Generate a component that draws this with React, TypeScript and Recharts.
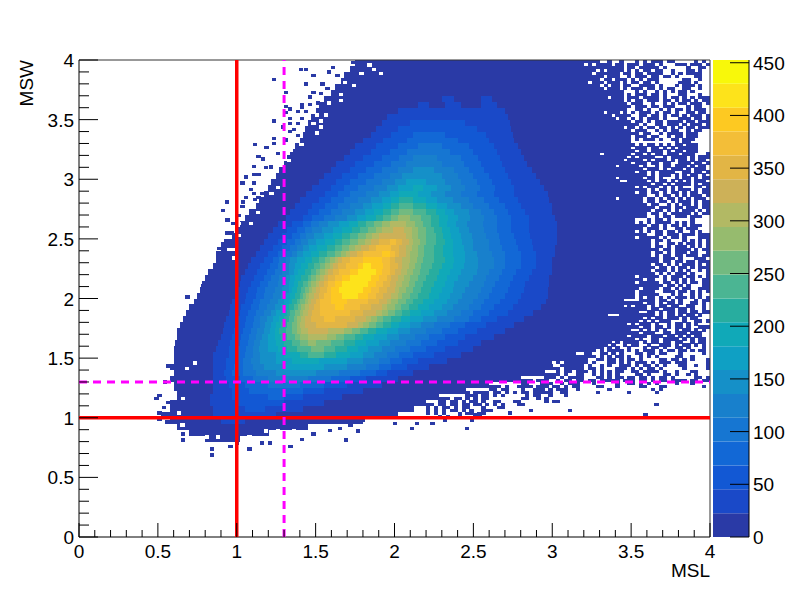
import React from "react";
import { ScatterChart, Scatter, XAxis, YAxis, BarChart, Bar } from "recharts";

// ROOT-style 2D histogram of MSW vs MSL
const W = 789;
const H = 597;
const LEFT = 79;
const RIGHT = 79;
const TOP = 60;
const BOTTOM = 60;
const PX_X = (W - LEFT - RIGHT) / 4;
const PX_Y = (H - TOP - BOTTOM) / 4;
const FINE = 0.025;
const ROW = 0.05;
const CONTOUR = 22.63;

const palette = ["#2a3aa6", "#1a49c8", "#1258d4", "#1268d6", "#1676d2", "#1880cc", "#1590c8", "#0fa0c4", "#10a9b8", "#28ad9f", "#4bb593", "#72ba80", "#96bb6e", "#b2b964", "#cdb158", "#e2b545", "#f3be38", "#fdc922", "#fde31b", "#f8f80a"];

const axisTicks = [0, 0.1, 0.2, 0.3, 0.4, 0.5, 0.6, 0.7, 0.8, 0.9, 1, 1.1, 1.2, 1.3, 1.4, 1.5, 1.6, 1.7, 1.8, 1.9, 2, 2.1, 2.2, 2.3, 2.4, 2.5, 2.6, 2.7, 2.8, 2.9, 3, 3.1, 3.2, 3.3, 3.4, 3.5, 3.6, 3.7, 3.8, 3.9, 4];
const zTicks = [0, 50, 100, 150, 200, 250, 300, 350, 400, 450];

// cut lines and frame, from one end to the other
const solidCutV = [{ x: 1, y: 0 }, { x: 1, y: 4 }];
const solidCutH = [{ x: 0, y: 1 }, { x: 4, y: 1 }];
const dashedCutV = [{ x: 1.3, y: 0 }, { x: 1.3, y: 4 }];
const dashedCutH = [{ x: 0, y: 1.3 }, { x: 4, y: 1.3 }];
const frameTop = [{ x: 0, y: 4 }, { x: 4, y: 4 }];
const frameRight = [{ x: 4, y: 0 }, { x: 4, y: 4 }];

// rows from MSW=4 downwards, 0.05 tall: x where a contour level starts, level, ..., last x
const bodyRows = [
  [1.75, 0, 3.2], [1.72, 0, 3.2], [1.68, 0, 3.2], [1.66, 0, 3.2], [1.62, 0, 3.2], [1.6, 0, 3.2],
  [1.55, 0, 2.3, 1, 2.38, 0, 2.55, 1, 2.62, 0, 3.2],
  [1.52, 0, 2.15, 1, 2.22, 0, 2.32, 1, 2.42, 0, 2.55, 1, 2.65, 0, 3.2],
  [1.5, 0, 2.02, 1, 2.7, 0, 3.2],
  [1.47, 0, 1.95, 1, 2.72, 0, 3.2],
  [1.45, 0, 1.92, 1, 2.1, 2, 2.45, 1, 2.73, 0, 3.2],
  [1.43, 0, 1.88, 1, 2.02, 2, 2.52, 1, 2.74, 0, 3.2],
  [1.42, 0, 1.85, 1, 1.98, 2, 2.12, 3, 2.32, 2, 2.58, 1, 2.75, 0, 3.2],
  [1.4, 0, 1.8, 1, 1.93, 2, 2.08, 3, 2.4, 2, 2.6, 1, 2.76, 0, 3.2],
  [1.37, 0, 1.75, 1, 1.88, 2, 2.02, 3, 2.15, 4, 2.3, 3, 2.47, 2, 2.63, 1, 2.78, 0, 3.2],
  [1.34, 0, 1.72, 1, 1.85, 2, 1.97, 3, 2.08, 4, 2.35, 3, 2.5, 2, 2.65, 1, 2.8, 0, 3.2],
  [1.32, 0, 1.68, 1, 1.8, 2, 1.92, 3, 2.03, 4, 2.12, 5, 2.27, 4, 2.42, 3, 2.53, 2, 2.67, 1, 2.82, 0, 3.2],
  [1.3, 0, 1.63, 1, 1.75, 2, 1.87, 3, 1.98, 4, 2.07, 5, 2.3, 4, 2.44, 3, 2.55, 2, 2.68, 1, 2.84, 0, 3.2],
  [1.27, 0, 1.6, 1, 1.72, 2, 1.82, 3, 1.92, 4, 2.02, 5, 2.12, 6, 2.25, 5, 2.38, 4, 2.47, 3, 2.57, 2, 2.7, 1, 2.87, 0, 3.2],
  [1.25, 0, 1.55, 1, 1.67, 2, 1.77, 3, 1.87, 4, 1.97, 5, 2.05, 6, 2.3, 5, 2.4, 4, 2.5, 3, 2.6, 2, 2.72, 1, 2.9, 0, 3.2],
  [1.22, 0, 1.52, 1, 1.63, 2, 1.72, 3, 1.82, 4, 1.92, 5, 2.0, 6, 2.07, 7, 2.2, 6, 2.32, 5, 2.42, 4, 2.52, 3, 2.62, 2, 2.74, 1, 2.92, 0, 3.2],
  [1.2, 0, 1.48, 1, 1.6, 2, 1.68, 3, 1.77, 4, 1.87, 5, 1.95, 6, 2.02, 7, 2.12, 8, 2.18, 7, 2.27, 6, 2.36, 5, 2.45, 4, 2.54, 3, 2.64, 2, 2.76, 1, 2.95, 0, 3.2],
  [1.17, 0, 1.44, 1, 1.56, 2, 1.64, 3, 1.72, 4, 1.82, 5, 1.9, 6, 1.97, 7, 2.03, 8, 2.15, 7, 2.23, 6, 2.32, 5, 2.42, 4, 2.52, 3, 2.63, 2, 2.76, 1, 2.97, 0, 3.2],
  [1.14, 0, 1.4, 1, 1.52, 2, 1.6, 3, 1.68, 4, 1.77, 5, 1.85, 6, 1.92, 7, 1.98, 8, 2.03, 9, 2.12, 8, 2.2, 7, 2.27, 6, 2.37, 5, 2.47, 4, 2.57, 3, 2.66, 2, 2.78, 1, 2.98, 0, 3.2],
  [1.12, 0, 1.37, 1, 1.48, 2, 1.56, 3, 1.64, 4, 1.72, 5, 1.8, 6, 1.86, 7, 1.93, 8, 1.98, 9, 2.03, 10, 2.12, 9, 2.2, 8, 2.27, 7, 2.33, 6, 2.42, 5, 2.5, 4, 2.6, 3, 2.7, 2, 2.8, 1, 3.0, 0, 3.2],
  [1.08, 0, 1.34, 1, 1.45, 2, 1.52, 3, 1.6, 4, 1.67, 5, 1.75, 6, 1.81, 7, 1.87, 8, 1.93, 9, 1.98, 10, 2.03, 11, 2.12, 10, 2.2, 9, 2.26, 8, 2.32, 7, 2.38, 6, 2.47, 5, 2.55, 4, 2.63, 3, 2.72, 2, 2.83, 1, 3.0, 0, 3.2],
  [1.05, 0, 1.31, 1, 1.42, 2, 1.48, 3, 1.55, 4, 1.62, 5, 1.7, 6, 1.76, 7, 1.82, 8, 1.88, 9, 1.93, 10, 1.98, 11, 2.02, 12, 2.1, 11, 2.17, 10, 2.23, 9, 2.28, 8, 2.34, 7, 2.4, 6, 2.48, 5, 2.57, 4, 2.65, 3, 2.74, 2, 2.85, 1, 3.02, 0, 3.2],
  [1.02, 0, 1.26, 1, 1.35, 2, 1.42, 3, 1.47, 4, 1.52, 5, 1.58, 6, 1.65, 7, 1.71, 8, 1.77, 9, 1.82, 10, 1.87, 11, 1.92, 12, 1.97, 13, 2.07, 12, 2.13, 11, 2.18, 10, 2.23, 9, 2.28, 8, 2.33, 7, 2.39, 6, 2.46, 5, 2.56, 4, 2.65, 3, 2.74, 2, 2.85, 1, 3.03, 0, 3.2],
  [1, 0, 1.23, 1, 1.32, 2, 1.38, 3, 1.43, 4, 1.48, 5, 1.54, 6, 1.61, 7, 1.67, 8, 1.73, 9, 1.78, 10, 1.83, 11, 1.88, 12, 1.92, 13, 1.99, 14, 2.06, 13, 2.11, 12, 2.15, 11, 2.2, 10, 2.25, 9, 2.3, 8, 2.35, 7, 2.41, 6, 2.47, 5, 2.57, 4, 2.65, 3, 2.74, 2, 2.85, 1, 3.03, 0, 3.2],
  [0.97, 0, 1.2, 1, 1.29, 2, 1.35, 3, 1.4, 4, 1.44, 5, 1.49, 6, 1.55, 7, 1.61, 8, 1.67, 9, 1.72, 10, 1.77, 11, 1.82, 12, 1.86, 13, 1.9, 14, 2.07, 13, 2.11, 12, 2.15, 11, 2.2, 10, 2.26, 9, 2.31, 8, 2.36, 7, 2.42, 6, 2.49, 5, 2.58, 4, 2.66, 3, 2.76, 2, 2.86, 1, 3.03, 0, 3.2],
  [0.92, 0, 1.17, 1, 1.26, 2, 1.32, 3, 1.37, 4, 1.41, 5, 1.45, 6, 1.5, 7, 1.56, 8, 1.62, 9, 1.67, 10, 1.72, 11, 1.77, 12, 1.81, 13, 1.85, 14, 1.9, 15, 1.97, 16, 2.01, 15, 2.05, 14, 2.09, 13, 2.12, 12, 2.16, 11, 2.2, 10, 2.26, 9, 2.32, 8, 2.37, 7, 2.43, 6, 2.5, 5, 2.6, 4, 2.67, 3, 2.77, 2, 2.87, 1, 3.03, 0, 3.2],
  [0.9, 0, 1.15, 1, 1.23, 2, 1.29, 3, 1.34, 4, 1.38, 5, 1.42, 6, 1.46, 7, 1.51, 8, 1.57, 9, 1.62, 10, 1.67, 11, 1.71, 12, 1.75, 13, 1.79, 14, 1.84, 15, 1.88, 16, 1.98, 15, 2.03, 14, 2.07, 13, 2.11, 12, 2.15, 11, 2.19, 10, 2.25, 9, 2.31, 8, 2.37, 7, 2.44, 6, 2.5, 5, 2.6, 4, 2.68, 3, 2.78, 2, 2.88, 1, 3.02, 0, 3.2],
  [0.87, 0, 1.12, 1, 1.2, 2, 1.26, 3, 1.31, 4, 1.35, 5, 1.38, 6, 1.42, 7, 1.47, 8, 1.52, 9, 1.57, 10, 1.62, 11, 1.66, 12, 1.69, 13, 1.72, 14, 1.76, 15, 1.8, 16, 1.92, 17, 1.97, 16, 2.0, 15, 2.03, 14, 2.07, 13, 2.1, 12, 2.15, 11, 2.19, 10, 2.25, 9, 2.31, 8, 2.37, 7, 2.45, 6, 2.52, 5, 2.62, 4, 2.7, 3, 2.8, 2, 2.9, 1, 3.02, 0, 3.2],
  [0.87, 0, 1.09, 1, 1.17, 2, 1.23, 3, 1.27, 4, 1.31, 5, 1.34, 6, 1.38, 7, 1.43, 8, 1.48, 9, 1.52, 10, 1.56, 11, 1.59, 12, 1.62, 13, 1.64, 14, 1.67, 15, 1.72, 16, 1.8, 17, 1.92, 16, 1.97, 15, 2.0, 14, 2.05, 13, 2.1, 12, 2.14, 11, 2.18, 10, 2.25, 9, 2.32, 8, 2.38, 7, 2.45, 6, 2.53, 5, 2.63, 4, 2.7, 3, 2.8, 2, 2.9, 1, 3.0, 0, 3.2],
  [0.85, 0, 1.07, 1, 1.15, 2, 1.21, 3, 1.26, 4, 1.3, 5, 1.33, 6, 1.37, 7, 1.41, 8, 1.45, 9, 1.49, 10, 1.53, 11, 1.56, 12, 1.59, 13, 1.61, 14, 1.64, 15, 1.69, 16, 1.77, 17, 1.8, 18, 1.85, 17, 1.93, 16, 1.97, 15, 2.02, 14, 2.05, 13, 2.09, 12, 2.13, 11, 2.17, 10, 2.24, 9, 2.3, 8, 2.37, 7, 2.44, 6, 2.53, 5, 2.63, 4, 2.7, 3, 2.8, 2, 2.9, 1, 3.0, 0, 3.2],
  [0.82, 0, 1.05, 1, 1.13, 2, 1.19, 3, 1.24, 4, 1.29, 5, 1.33, 6, 1.36, 7, 1.39, 8, 1.43, 9, 1.47, 10, 1.5, 11, 1.53, 12, 1.56, 13, 1.58, 14, 1.61, 15, 1.65, 16, 1.72, 17, 1.77, 18, 1.88, 17, 1.92, 16, 1.97, 15, 2.0, 14, 2.04, 13, 2.08, 12, 2.12, 11, 2.16, 10, 2.22, 9, 2.28, 8, 2.35, 7, 2.42, 6, 2.52, 5, 2.6, 4, 2.68, 3, 2.77, 2, 2.87, 1, 3.0, 0, 3.2],
  [0.8, 0, 1.03, 1, 1.11, 2, 1.17, 3, 1.22, 4, 1.27, 5, 1.31, 6, 1.34, 7, 1.37, 8, 1.41, 9, 1.45, 10, 1.47, 11, 1.5, 12, 1.53, 13, 1.55, 14, 1.58, 15, 1.62, 16, 1.67, 17, 1.72, 18, 1.85, 17, 1.9, 16, 1.95, 15, 1.98, 14, 2.02, 13, 2.06, 12, 2.1, 11, 2.15, 10, 2.2, 9, 2.27, 8, 2.33, 7, 2.4, 6, 2.5, 5, 2.58, 4, 2.66, 3, 2.75, 2, 2.85, 1, 2.98, 0, 3.2],
  [0.78, 0, 1.02, 1, 1.09, 2, 1.15, 3, 1.2, 4, 1.26, 5, 1.3, 6, 1.33, 7, 1.36, 8, 1.39, 9, 1.42, 10, 1.45, 11, 1.47, 12, 1.5, 13, 1.52, 14, 1.55, 15, 1.58, 16, 1.62, 17, 1.67, 18, 1.83, 17, 1.88, 16, 1.93, 15, 1.97, 14, 2.01, 13, 2.05, 12, 2.09, 11, 2.13, 10, 2.18, 9, 2.25, 8, 2.32, 7, 2.38, 6, 2.47, 5, 2.57, 4, 2.64, 3, 2.73, 2, 2.83, 1, 2.98, 0, 3.2],
  [0.77, 0, 1.0, 1, 1.07, 2, 1.13, 3, 1.18, 4, 1.24, 5, 1.29, 6, 1.33, 7, 1.35, 8, 1.38, 9, 1.41, 10, 1.43, 11, 1.46, 12, 1.48, 13, 1.5, 14, 1.53, 15, 1.57, 16, 1.6, 17, 1.65, 18, 1.8, 17, 1.85, 16, 1.9, 15, 1.95, 14, 2.0, 13, 2.03, 12, 2.07, 11, 2.12, 10, 2.17, 9, 2.23, 8, 2.3, 7, 2.37, 6, 2.45, 5, 2.55, 4, 2.62, 3, 2.72, 2, 2.82, 1, 2.97, 0, 3.2],
  [0.75, 0, 0.99, 1, 1.06, 2, 1.12, 3, 1.17, 4, 1.23, 5, 1.28, 6, 1.31, 7, 1.34, 8, 1.37, 9, 1.4, 10, 1.42, 11, 1.44, 12, 1.46, 13, 1.49, 14, 1.52, 15, 1.55, 16, 1.6, 17, 1.67, 18, 1.77, 17, 1.83, 16, 1.88, 15, 1.93, 14, 1.98, 13, 2.02, 12, 2.05, 11, 2.1, 10, 2.15, 9, 2.22, 8, 2.28, 7, 2.35, 6, 2.43, 5, 2.53, 4, 2.6, 3, 2.7, 2, 2.8, 1, 2.97, 0, 3.2],
  [0.73, 0, 0.97, 1, 1.05, 2, 1.1, 3, 1.15, 4, 1.21, 5, 1.26, 6, 1.3, 7, 1.33, 8, 1.35, 9, 1.38, 10, 1.4, 11, 1.43, 12, 1.45, 13, 1.47, 14, 1.5, 15, 1.53, 16, 1.6, 17, 1.7, 16, 1.83, 15, 1.9, 14, 1.95, 13, 1.98, 12, 2.02, 11, 2.07, 10, 2.12, 9, 2.18, 8, 2.25, 7, 2.33, 6, 2.4, 5, 2.5, 4, 2.57, 3, 2.67, 2, 2.78, 1, 2.96, 0, 3.2],
  [0.7, 0, 0.96, 1, 1.03, 2, 1.09, 3, 1.14, 4, 1.19, 5, 1.24, 6, 1.28, 7, 1.31, 8, 1.33, 9, 1.36, 10, 1.39, 11, 1.41, 12, 1.43, 13, 1.46, 14, 1.49, 15, 1.53, 16, 1.62, 17, 1.68, 16, 1.78, 15, 1.85, 14, 1.92, 13, 1.95, 12, 2, 11, 2.04, 10, 2.09, 9, 2.15, 8, 2.22, 7, 2.3, 6, 2.37, 5, 2.47, 4, 2.55, 3, 2.63, 2, 2.75, 1, 2.93, 0, 3.2],
  [0.68, 0, 0.95, 1, 1.02, 2, 1.07, 3, 1.12, 4, 1.17, 5, 1.22, 6, 1.25, 7, 1.29, 8, 1.32, 9, 1.34, 10, 1.37, 11, 1.4, 12, 1.42, 13, 1.45, 14, 1.48, 15, 1.53, 16, 1.72, 15, 1.8, 14, 1.88, 13, 1.92, 12, 1.96, 11, 2, 10, 2.05, 9, 2.1, 8, 2.17, 7, 2.25, 6, 2.33, 5, 2.42, 4, 2.5, 3, 2.6, 2, 2.72, 1, 2.88, 0, 3.2],
  [0.66, 0, 0.93, 1, 1.01, 2, 1.06, 3, 1.11, 4, 1.15, 5, 1.19, 6, 1.23, 7, 1.27, 8, 1.3, 9, 1.33, 10, 1.36, 11, 1.38, 12, 1.41, 13, 1.43, 14, 1.47, 15, 1.55, 16, 1.62, 15, 1.75, 14, 1.82, 13, 1.85, 12, 1.89, 11, 1.93, 10, 1.98, 9, 2.04, 8, 2.1, 7, 2.18, 6, 2.27, 5, 2.38, 4, 2.47, 3, 2.55, 2, 2.65, 1, 2.82, 0, 3.2],
  [0.64, 0, 0.92, 1, 1.0, 2, 1.05, 3, 1.1, 4, 1.15, 5, 1.18, 6, 1.22, 7, 1.25, 8, 1.28, 9, 1.32, 10, 1.35, 11, 1.38, 12, 1.4, 13, 1.43, 14, 1.5, 15, 1.7, 14, 1.77, 13, 1.8, 12, 1.84, 11, 1.88, 10, 1.93, 9, 1.98, 8, 2.03, 7, 2.1, 6, 2.17, 5, 2.25, 4, 2.35, 3, 2.45, 2, 2.58, 1, 2.76, 0, 3.2],
  [0.62, 0, 0.91, 1, 0.98, 2, 1.04, 3, 1.09, 4, 1.13, 5, 1.17, 6, 1.21, 7, 1.24, 8, 1.27, 9, 1.31, 10, 1.35, 11, 1.38, 12, 1.41, 13, 1.45, 14, 1.58, 13, 1.68, 12, 1.73, 11, 1.78, 10, 1.83, 9, 1.88, 8, 1.95, 7, 2.02, 6, 2.1, 5, 2.2, 4, 2.3, 3, 2.4, 2, 2.52, 1, 2.7, 0, 3.2],
  [0.62, 0, 0.9, 1, 0.97, 2, 1.03, 3, 1.08, 4, 1.12, 5, 1.16, 6, 1.2, 7, 1.24, 8, 1.28, 9, 1.32, 10, 1.37, 11, 1.4, 12, 1.45, 13, 1.57, 12, 1.63, 11, 1.68, 10, 1.75, 9, 1.8, 8, 1.87, 7, 1.95, 6, 2.03, 5, 2.13, 4, 2.22, 3, 2.32, 2, 2.45, 1, 2.63, 0, 3.2],
  [0.61, 0, 0.88, 1, 0.96, 2, 1.02, 3, 1.07, 4, 1.11, 5, 1.15, 6, 1.2, 7, 1.25, 8, 1.3, 9, 1.35, 10, 1.4, 11, 1.45, 12, 1.5, 11, 1.6, 10, 1.68, 9, 1.75, 8, 1.82, 7, 1.9, 6, 1.97, 5, 2.07, 4, 2.17, 3, 2.27, 2, 2.4, 1, 2.55, 0, 3.2],
  [0.6, 0, 0.87, 1, 0.95, 2, 1.01, 3, 1.06, 4, 1.1, 5, 1.14, 6, 1.2, 7, 1.26, 8, 1.32, 9, 1.38, 10, 1.47, 11, 1.55, 10, 1.62, 9, 1.7, 8, 1.77, 7, 1.83, 6, 1.92, 5, 2.0, 4, 2.1, 3, 2.2, 2, 2.32, 1, 2.5, 0, 3.2],
  [0.6, 0, 0.85, 1, 0.95, 2, 1.0, 3, 1.05, 4, 1.1, 5, 1.15, 6, 1.25, 7, 1.3, 8, 1.4, 9, 1.45, 10, 1.55, 9, 1.63, 8, 1.72, 7, 1.8, 6, 1.87, 5, 1.95, 4, 2.03, 3, 2.12, 2, 2.25, 1, 2.42, 0, 3.15],
  [0.6, 0, 0.85, 1, 0.93, 2, 0.99, 3, 1.04, 4, 1.09, 5, 1.15, 6, 1.25, 7, 1.35, 8, 1.52, 7, 1.7, 6, 1.8, 5, 1.9, 4, 1.97, 3, 2.05, 2, 2.15, 1, 2.33, 0, 3.05],
  [0.58, 0, 0.85, 1, 0.93, 2, 0.98, 3, 1.04, 4, 1.1, 5, 1.17, 6, 1.3, 7, 1.55, 6, 1.7, 5, 1.82, 4, 1.9, 3, 1.98, 2, 2.08, 1, 2.22, 0, 3.0],
  [0.6, 0, 0.85, 1, 0.92, 2, 0.97, 3, 1.04, 4, 1.12, 5, 1.25, 6, 1.5, 5, 1.65, 4, 1.78, 3, 1.88, 2, 1.95, 1, 2.12, 0, 2.95],
  [0.58, 0, 0.85, 1, 0.93, 2, 1.02, 3, 1.1, 4, 1.2, 5, 1.45, 4, 1.6, 3, 1.72, 2, 1.82, 1, 2.02, 0, 2.8],
  [0.6, 0, 0.85, 1, 0.95, 2, 1.05, 3, 1.2, 4, 1.4, 3, 1.55, 2, 1.7, 1, 1.92, 0, 2.6],
  [0.6, 0, 0.85, 1, 0.97, 2, 1.08, 3, 1.42, 2, 1.55, 1, 1.8, 0, 2.45],
  [0.62, 0, 0.83, 1, 0.97, 2, 1.2, 3, 1.3, 2, 1.42, 1, 1.67, 0, 2.28],
  [0.58, 0, 0.83, 1, 1.0, 2, 1.3, 1, 1.55, 0, 2.2],
  [0.58, 0, 0.85, 1, 1.05, 2, 1.18, 1, 1.42, 0, 2.12],
  [0.52, 0, 0.85, 1, 1.25, 0, 2.02],
  [0.58, 0, 0.9, 1, 1.05, 0, 1.8],
  [0.62, 0, 1.45],
  [0.7, 0, 1.2],
  [0.8, 0, 1.02],
];

// fine bins, x from 3.2 and MSW from 4 downwards: # filled, . empty
const rightMask = [
  "####..#..#...#.#.###.##.....#.#.",
  ".#.####.##.###.###.#...###.###.#",
  "##########.##.#####.#.....#..##.",
  "###.#.####.#.#.##.##..#...##.#..",
  "##.######.##.##.####..#.#.####..",
  "#####.###..#.###.##.##.#....##..",
  "####.##.###.#.#.###......##..#..",
  "#.###.###.#.##.##.#.....###.#...",
  "####.#.##.##..####.#...#.###.#..",
  "#####.###.#.###.##.#.##..##..#..",
  "##########...#.#..#.#.#.##.#....",
  "##########.#.###.##.#...##...#..",
  "######.###.###.####.#.##.#.#.###",
  "##########.#.##.###.##.#.##.#.##",
  "###########.###..#..#.#.##.###.#",
  "############.###.##.###...#.##..",
  "###########..##.#..#.#.##.#.###.",
  "#####.###.#.#.###.#.##.#..##.##.",
  "#######.####..##.##.#.##.#.###.#",
  "########.##.#.#.###.#...###.##.#",
  "############.##.#.##.####.##.###",
  "##############.#..##.###.#.###.#",
  "##########.##.#.##.##.#.#.##.###",
  "############.###..#.#.##..#.##..",
  "##############.##..#.####.###...",
  "############.###.##..#.##.###...",
  "############.#.###.#..##.###....",
  "############...........#.##.....",
  "#############.#.##.#.#.##.###...",
  "############.###.##.#.#.#####..",
  "#############.##.###.#.##.###...",
  "####.#######.##.#.##.###.###...#",
  "###########.#.####..#.####.#.###",
  "##########.####.#.###.#.##.#.##.",
  "############.###.##.##..###.##.#",
  "########.#####.#..#.##.###.#.##.",
  "###############.###.#.###.#.###.",
  "#############.##.#.####..##.##.#",
  "################.#.###.#.#.##.#.",
  "########.######.##.#...#.##.#.##",
  "#########..#####.#.##.#.#.#.###.",
  "#################.##.#.####.#.##",
  "#############.#.###.#.#.#...##.#",
  "################.#.##.#.###.#.##",
  "#############.##.##.#.##.#.##.##",
  "################..#.##.#.#.###.#",
  "########.######.##.#.##.#.#.###.",
  "###############.##.##.#.###.#.##",
  "################.##..#.#.##.#.##",
  "##################.###.##.###.##",
  "#################.##.#.#.###.#.#",
  "################.##.#.#####.#.##",
  "################..#.##.###.###..",
  "#############...#.##.#.....#....",
  "#############.#.#.####.#.#.#....",
  "################.##.#.##.#.###..",
  "###############.###.#..##.###...",
  "#############.#.#.##.##.#..#.#..",
  "################..##.###.###.###",
  "#############.#####.#.##.#...###",
  "#################.##.#...#.#.#.#",
  "#################.#..##.#.##.#.#",
  "#################.##.#.###.#.#.#",
  "###################.##.####.#.##",
  "#################.##.#.###.##..#",
  "#################.#.##.##.###.##",
  "###################.###.#...###.",
  "###################.##.##.##.###",
  "#################.##.#.#.###.#.#",
  "##################.##.#.##.#.###",
  "#################.###.#.#.#..#.#",
  "##################.#.#.###.#...#",
  "#############.#####.#.###.##.#.#",
  "###############.##..#.##.#.#..##",
  "#############.#####.##.#.#.##.##",
  "####################.##.#.#...##",
  "##############.####.##.#.##..###",
  "#############.####..###.##.#.#.#",
  "#############.#####...#.#..#.#..",
  "#############.#.##.#.#.###.#.#.#",
  "##########....####.##.#.#...#.##",
  "###############.##.#.##.#..##.#.",
  "##########.#.###.#.##.##..##..#.",
  "################.##.###.##.#..#.",
  "##############..##.#.##.##.##.##",
  "######...#########.#.##.#.##.#..",
  "###############.#.##.###.#.##...",
  "##############.#.#.###...#..##.#",
  "###########.#.###.#..#.##.#.#...",
  "##############.##.##.#.##.#..###",
  "############..#.#.#.#..#.##.#.#.",
  "##############.###..##.###.###..",
  "###########.####.###.##.#.#.##..",
  "#############.#..##.####.#.#.##.",
  "#######.#.####.#.##.##.##..#.##.",
  "######.#..#.##..#..###.#.##.#.#.",
  "#####.#.#..#...#.##.#..##.#...#.",
  "###.#.####.#.#.###.#.##.##.#.##.",
  "##..##.#.#...##.##.##...#.....#.",
  "###.#.#.##.#..#.#.#....##..#....",
  "#..##.##.#.##.#....##.##.#.#...#",
  "#.#...##.#.#.###.#.###.###.....#",
  ".#..#.#..###.#.##.#.#...##..#..#",
  ".##.#...###.#.#.##.#.....#.....#",
  "#.#.#.#.##..##.####.#..#...##...",
  "..#.#.#.#....##.#...##.#..#.#...",
  "...##.#.##.##.##.#.##.#.....##.#",
  ".##.#####.###.##.#.##.####.##.##",
  "..#.....#..##.#.#.#....#...#....",
  "...##...#.....##...##.........#.",
  "......#..........#.#...........",
  "...#.......#......#.............",
];

// fine bins beyond the solid body, x from 2.2 and MSW from 1.6 downwards: # filled, o empty inside body
const lowerMask = [
  "",
  "",
  "",
  "......................................##",
  "..................................######",
  "................................o..#####",
  "..................................######",
  "................................##.#####",
  "................................o#.##.##",
  "..............................####.#..##",
  "..............................###.#.####",
  "........................###.###..#.##.##",
  "........................##...###..#.###.",
  "................###.#..####.###.##.#.##.",
  "................##.##...#..###.#.###..#.",
  "..........#.####.##.#.#.##.#####..##....",
  "..........###.##.#.#.....#.##..#...#....",
  "...###.##.#.#.##........##..#.#.....",
  "...##.##.#.##.#..##...##......#.##..",
  "##.##.##.##.##.#.#.#...##....",
  "#.#.##.#.##...#...##......",
  "#.#.#.##.#.#..###.........#.........#",
  "#.#.#...#.##.##........",
  "...#.#..#...##",
];

// single filled fine bins outside the solid body
const speckX = [0.565, 0.545, 0.51, 0.49, 0.54, 0.565, 0.51, 0.51, 0.56, 0.66, 0.66, 0.84, 0.84, 0.96, 1.0, 1.08, 1.16, 1.21, 1.415, 1.34, 1.485, 1.69, 1.77, 1.59, 1.655, 1.72, 1.8, 2.0, 2.14, 2.24, 2.11, 2.46, 2.32, 2.49, 2.51, 2.73, 3.59, 3.66, 0.687, 0.814, 0.786, 0.786, 0.814, 0.863, 0.863, 0.884, 0.888, 0.913, 0.94, 0.965, 0.94, 0.913, 0.937, 0.977, 1.015, 1.036, 1.06, 1.11, 1.11, 1.137, 1.11, 1.137, 1.167, 1.114, 1.188, 1.237, 1.237, 1.262, 1.184, 1.216, 1.057, 1.04, 1.036, 1.09, 1.11, 1.163, 1.137, 1.114, 1.237, 1.237, 1.438, 1.438, 1.406, 1.486, 1.463, 1.412, 1.412, 1.463, 1.31, 1.486, 1.514, 1.31, 1.336, 1.31, 1.385, 1.438, 1.336, 1.29, 1.336, 1.364, 1.31, 1.385, 1.336, 1.385, 1.412, 1.543, 1.575, 1.533, 1.564, 1.607, 1.586, 1.61, 1.638, 1.738, 1.786];
const speckY = [1.435, 1.3, 1.19, 1.165, 1.09, 1.13, 1.04, 0.99, 0.965, 0.865, 0.815, 0.74, 0.69, 0.76, 0.79, 0.74, 0.79, 0.79, 0.82, 0.76, 0.865, 0.815, 0.89, 0.895, 0.91, 0.94, 0.98, 0.955, 0.955, 0.955, 0.91, 0.91, 0.98, 0.98, 1.03, 1.04, 1.03, 1.115, 2.015, 2.17, 2.11, 2.065, 2.065, 2.16, 2.27, 2.34, 2.42, 2.46, 2.55, 2.55, 2.66, 2.74, 2.81, 2.63, 2.7, 2.97, 3.02, 2.97, 3.04, 3.04, 3.11, 3.19, 3.17, 3.29, 3.27, 3.3, 3.34, 3.22, 3.1, 3.105, 2.85, 2.81, 2.77, 2.915, 2.88, 2.88, 2.85, 2.83, 3.49, 3.84, 3.8, 3.92, 3.92, 3.87, 3.69, 3.63, 3.6, 3.63, 3.73, 3.73, 3.64, 3.61, 3.59, 3.56, 3.57, 3.57, 3.51, 3.44, 3.47, 3.42, 3.33, 3.37, 3.4, 3.47, 3.51, 3.8, 3.76, 3.72, 3.67, 3.72, 3.9, 3.94, 3.87, 3.98, 3.97];

// empty fine bins inside the body
const holeX = [0.735, 0.685, 0.61, 0.66, 0.635, 0.655, 0.81, 0.88, 1.04, 1.08, 1.185, 1.26, 1.36, 1.09, 1.135, 0.98, 0.95, 0.975, 1.01, 1.01, 1.33, 1.41, 1.34, 1.51, 1.535, 1.485, 1.535, 1.565, 1.51, 1.585, 1.66, 1.66, 1.74, 1.685, 1.79, 1.84, 1.87, 1.915, 1.22, 1.26];
const holeY = [1.46, 1.415, 1.21, 1.165, 1.04, 0.94, 0.84, 0.84, 0.815, 0.84, 0.89, 0.89, 0.89, 2.63, 2.72, 2.34, 2.41, 2.41, 2.53, 2.63, 3.16, 3.29, 3.24, 3.39, 3.44, 3.47, 3.49, 3.54, 3.54, 3.64, 3.66, 3.71, 3.79, 3.81, 3.89, 3.96, 3.92, 3.89, 2.88, 2.93];

const spanData = bodyRows.flatMap((row, i) => {
  const out = [];
  for (let k = 0; k + 2 < row.length; k += 2) {
    out.push({
      x: (row[k] + row[k + 2]) / 2,
      y: 4 - (i + 0.5) * ROW,
      w: row[k + 2] - row[k],
      h: ROW,
      fill: palette[row[k + 1]],
    });
  }
  return out;
});

function maskCells(rows, x0, yTop, mark, fill) {
  const out = [];
  rows.forEach((row, i) => {
    [...row].forEach((ch, j) => {
      if (ch === mark) out.push({ x: x0 + (j + 0.5) * FINE, y: yTop - (i + 0.5) * FINE, w: FINE, h: FINE, fill });
    });
  });
  return out;
}

const speckData = [
  ...maskCells(rightMask, 3.2, 4, "#", palette[0]),
  ...maskCells(lowerMask, 2.2, 1.6, "#", palette[0]),
  ...speckX.map((x, i) => ({ x, y: speckY[i], w: FINE, h: FINE, fill: palette[0] })),
];
const holeData = [
  ...maskCells(lowerMask, 2.2, 1.6, "o", "#ffffff"),
  ...holeX.map((x, i) => ({ x, y: holeY[i], w: FINE, h: FINE, fill: "#ffffff" })),
];

const barRow = [Object.fromEntries([["name", "z"], ...palette.map((_, i) => [`l${i}`, CONTOUR])])];

const FONT = "Liberation Sans, Arial, sans-serif";

const BinRect = ({ cx, cy, payload }: any) => {
  const w = payload.w * PX_X;
  const h = payload.h * PX_Y;
  return <rect x={cx - w / 2} y={cy - h / 2} width={w + 0.3} height={h + 0.3} fill={payload.fill} shapeRendering="crispEdges" />;
};

const NoMark = () => <g />;

const isMajor = (v: number) => Math.abs(v * 2 - Math.round(v * 2)) < 1e-6;
const fmt = (v: number) => String(Math.round(v * 10) / 10);

const BottomTick = ({ x, y, payload }: any) => {
  const major = isMajor(payload.value);
  return (
    <g>
      <line x1={x} x2={x} y1={y} y2={y - (major ? 14 : 7)} stroke="#000" />
      {major && (
        <text x={x} y={y + 21} fontSize={19} fontFamily={FONT} textAnchor="middle" fill="#000">
          {fmt(payload.value)}
        </text>
      )}
    </g>
  );
};

const LeftTick = ({ x, y, payload }: any) => {
  const major = isMajor(payload.value);
  return (
    <g>
      <line x1={x} x2={x + (major ? 19 : 10)} y1={y} y2={y} stroke="#000" />
      {major && (
        <text x={x - 5} y={y + 7} fontSize={19} fontFamily={FONT} textAnchor="end" fill="#000">
          {fmt(payload.value)}
        </text>
      )}
    </g>
  );
};

const ZTick = ({ x, y, payload }: any) => (
  <g>
    <line x1={x} x2={x - 19} y1={y} y2={y} stroke="#000" />
    <text x={x + 4} y={y + 7} fontSize={19} fontFamily={FONT} textAnchor="start" fill="#000">
      {payload.value}
    </text>
  </g>
);

const XTitle = () => (
  <text x={W - RIGHT} y={577} fontSize={19} fontFamily={FONT} textAnchor="end" fill="#000">
    MSL
  </text>
);

const YTitle = () => (
  <text transform={`translate(33,${TOP}) rotate(-90)`} fontSize={19} fontFamily={FONT} textAnchor="end" fill="#000">
    MSW
  </text>
);

export default function App() {
  return (
    <div style={{ position: "absolute", left: 0, top: 0, width: W, height: H, background: "#fff" }}>
      <div style={{ position: "absolute", left: 0, top: 0 }}>
        <ScatterChart width={W} height={H} margin={{ top: TOP, right: RIGHT, bottom: 0, left: 0 }}>
          <XAxis
            type="number"
            dataKey="x"
            domain={[0, 4]}
            ticks={axisTicks}
            interval={0}
            height={BOTTOM}
            tickSize={0}
            tickMargin={0}
            tick={<BottomTick />}
            axisLine={{ stroke: "#000" }}
            tickLine={false}
            label={{ content: <XTitle /> }}
          />
          <YAxis
            type="number"
            dataKey="y"
            domain={[0, 4]}
            ticks={axisTicks}
            interval={0}
            width={LEFT}
            tickSize={0}
            tickMargin={0}
            tick={<LeftTick />}
            axisLine={{ stroke: "#000" }}
            tickLine={false}
            label={{ content: <YTitle /> }}
          />
          <Scatter data={spanData} isAnimationActive={false} shape={<BinRect />} />
          <Scatter data={speckData} isAnimationActive={false} shape={<BinRect />} />
          <Scatter data={holeData} isAnimationActive={false} shape={<BinRect />} />
          <Scatter data={frameTop} isAnimationActive={false} shape={<NoMark />} line={{ stroke: "#333", strokeWidth: 1 }} />
          <Scatter data={frameRight} isAnimationActive={false} shape={<NoMark />} line={{ stroke: "#333", strokeWidth: 1 }} />
          <Scatter data={solidCutV} isAnimationActive={false} shape={<NoMark />} line={{ stroke: "#ff0000", strokeWidth: 3.5 }} />
          <Scatter data={solidCutH} isAnimationActive={false} shape={<NoMark />} line={{ stroke: "#ff0000", strokeWidth: 3.5 }} />
          <Scatter data={dashedCutV} isAnimationActive={false} shape={<NoMark />} line={{ stroke: "#ff00ff", strokeWidth: 3, strokeDasharray: "8 6" }} />
          <Scatter data={dashedCutH} isAnimationActive={false} shape={<NoMark />} line={{ stroke: "#ff00ff", strokeWidth: 3, strokeDasharray: "8 6" }} />
        </ScatterChart>
      </div>
      <div style={{ position: "absolute", left: 713, top: 0 }}>
        <BarChart width={76} height={H} data={barRow} barCategoryGap={0} margin={{ top: TOP, right: 40, bottom: BOTTOM, left: 0 }}>
          <XAxis dataKey="name" hide />
          <YAxis type="number" domain={[0, CONTOUR * palette.length]} hide />
          {palette.map((c, i) => (
            <Bar key={c} dataKey={`l${i}`} stackId="z" fill={c} isAnimationActive={false} />
          ))}
        </BarChart>
      </div>
      {/* the z axis sits in a layer of its own so its ticks stay over the bar */}
      <div style={{ position: "absolute", left: 713, top: 0 }}>
        <BarChart width={76} height={H} data={barRow} margin={{ top: TOP, right: 0, bottom: BOTTOM, left: 0 }}>
          <XAxis dataKey="name" hide />
          <YAxis
            orientation="right"
            type="number"
            domain={[0, CONTOUR * palette.length]}
            ticks={zTicks}
            interval={0}
            width={40}
            tickSize={0}
            tickMargin={0}
            tick={<ZTick />}
            axisLine={{ stroke: "#000" }}
            tickLine={false}
          />
          <Bar dataKey="l0" fill="none" isAnimationActive={false} />
        </BarChart>
      </div>
    </div>
  );
}
